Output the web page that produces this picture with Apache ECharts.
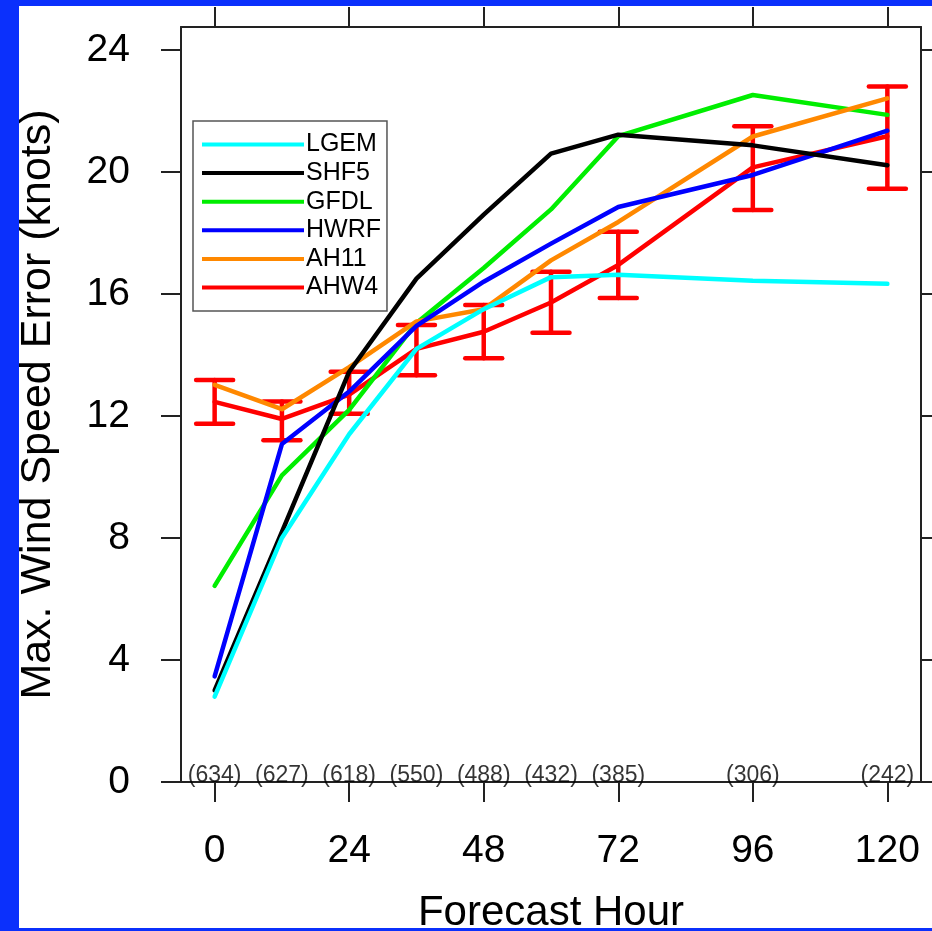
<!DOCTYPE html>
<html>
<head>
<meta charset="utf-8">
<script src="https://cdn.jsdelivr.net/npm/echarts@6/dist/echarts.min.js"></script>
<style>
  html, body { margin: 0; padding: 0; background: #ffffff; }
  #chart { width: 932px; height: 931px; }
</style>
</head>
<body>
<div id="chart"></div>
<script>
// Forecast lead times (hours)
const hours = [0, 12, 24, 36, 48, 60, 72, 96, 120];
// Number of verifying cases at each lead time
const caseCounts = [634, 627, 618, 550, 488, 432, 385, 306, 242];

// Mean absolute max wind speed error (knots) per model
const LGEM = [2.8, 8.0, 11.4, 14.2, 15.5, 16.55, 16.63, 16.43, 16.33];
const SHF5 = [3.0, 8.2, 13.45, 16.5, 18.6, 20.6, 21.22, 20.87, 20.22];
const GFDL = [6.43, 10.05, 12.2, 15.05, 16.85, 18.77, 21.17, 22.52, 21.87];
const HWRF = [3.46, 11.08, 12.8, 14.95, 16.4, 17.65, 18.85, 19.9, 21.35];
const AH11 = [13.02, 12.22, 13.6, 15.1, 15.5, 17.1, 18.36, 21.16, 22.41];
const AHW4 = [12.46, 11.9, 12.7, 14.2, 14.76, 15.72, 16.95, 20.15, 21.17];

// Confidence interval bounds for AHW4
const ahw4Low  = [11.74, 11.2, 12.07, 13.33, 13.89, 14.73, 15.87, 18.75, 19.45];
const ahw4High = [13.18, 12.47, 13.45, 14.98, 15.64, 16.73, 18.04, 21.5, 22.8];

// Axis tick values
const xTicks = [0, 24, 48, 72, 96, 120];
const yTicks = [0, 4, 8, 12, 16, 20, 24];

const FONT = "'Liberation Sans', Arial, Helvetica, sans-serif";

const modelStyles = [
  { name: 'LGEM', data: LGEM, color: '#00ffff', z: 8 },
  { name: 'SHF5', data: SHF5, color: '#000000', z: 7 },
  { name: 'GFDL', data: GFDL, color: '#00ee00', z: 5 },
  { name: 'HWRF', data: HWRF, color: '#0000ff', z: 6 },
  { name: 'AH11', data: AH11, color: '#ff8800', z: 5 },
  { name: 'AHW4', data: AHW4, color: '#ff0000', z: 4 }
];

const lineSeries = modelStyles.map(m => ({
  name: m.name,
  type: 'line',
  data: hours.map((h, i) => [h, m.data[i]]),
  symbol: 'none',
  color: m.color,
  lineStyle: { width: 4.5, color: m.color, cap: 'round', join: 'round' },
  z: m.z,
  animation: false
}));

const errorSeries = {
  name: 'AHW4 range',
  type: 'custom',
  data: hours.map((h, i) => [h, ahw4Low[i], ahw4High[i]]),
  z: 3,
  animation: false,
  renderItem: function (params, api) {
    const x = api.value(0);
    const lo = api.coord([x, api.value(1)]);
    const hi = api.coord([x, api.value(2)]);
    const half = 18.5;
    const style = { stroke: '#ff0000', lineWidth: 4.5, lineCap: 'round' };
    return {
      type: 'group',
      children: [
        { type: 'line', shape: { x1: lo[0], y1: lo[1], x2: hi[0], y2: hi[1] }, style: style },
        { type: 'line', shape: { x1: lo[0] - half, y1: lo[1], x2: lo[0] + half, y2: lo[1] }, style: style },
        { type: 'line', shape: { x1: hi[0] - half, y1: hi[1], x2: hi[0] + half, y2: hi[1] }, style: style }
      ]
    };
  }
};

const countSeries = {
  name: 'cases',
  type: 'scatter',
  data: hours.map(h => [h, 0]),
  symbolSize: 0,
  silent: true,
  clip: false,
  z: 9,
  animation: false,
  label: {
    show: true,
    position: 'top',
    distance: -5,
    fontFamily: FONT,
    fontSize: 23,
    color: '#000',
    formatter: p => '(' + caseCounts[p.dataIndex] + ')'
  }
};

const axisLineStyle = { color: '#222', width: 2 };

const chart = echarts.init(document.getElementById('chart'), null, { renderer: 'canvas' });
chart.setOption({
  backgroundColor: '#ffffff',
  animation: false,
  grid: { left: 181, right: 11, top: 27, bottom: 149, containLabel: false, outerBoundsMode: 'none' },
  legend: {
    data: modelStyles.map(m => m.name),
    orient: 'vertical',
    left: 193,
    top: 121,
    padding: [11, 6, 11, 9],
    backgroundColor: '#ffffff',
    borderColor: '#555555',
    borderWidth: 1.5,
    icon: 'rect',
    itemWidth: 102,
    itemHeight: 4,
    itemGap: 3.6,
    selectedMode: false,
    textStyle: { fontFamily: FONT, fontSize: 25, color: '#000', padding: [0, 0, 0, -3] }
  },
  xAxis: [
    {
      type: 'value',
      min: -6,
      max: 126,
      position: 'bottom',
      name: 'Forecast Hour',
      nameLocation: 'middle',
      nameGap: 110,
      nameTextStyle: { fontFamily: FONT, fontSize: 42, color: '#000' },
      splitLine: { show: false },
      axisLine: { show: true, onZero: false, lineStyle: axisLineStyle },
      axisTick: { show: true, inside: false, length: 20, customValues: xTicks, lineStyle: axisLineStyle },
      axisLabel: { show: true, customValues: xTicks, margin: 50, fontFamily: FONT, fontSize: 39, color: '#000' }
    },
    {
      type: 'value',
      min: -6,
      max: 126,
      position: 'top',
      splitLine: { show: false },
      axisLine: { show: true, onZero: false, lineStyle: axisLineStyle },
      axisTick: { show: true, inside: false, length: 20, customValues: xTicks, lineStyle: axisLineStyle },
      axisLabel: { show: false }
    }
  ],
  yAxis: [
    {
      type: 'value',
      min: 0,
      max: 24.75,
      position: 'left',
      name: 'Max. Wind Speed Error (knots)',
      nameLocation: 'middle',
      nameGap: 121,
      nameTextStyle: { fontFamily: FONT, fontSize: 43, color: '#000' },
      splitLine: { show: false },
      axisLine: { show: true, onZero: false, lineStyle: axisLineStyle },
      axisTick: { show: true, inside: false, length: 20, customValues: yTicks, lineStyle: axisLineStyle },
      axisLabel: { show: true, customValues: yTicks, margin: 51, fontFamily: FONT, fontSize: 39, color: '#000' }
    },
    {
      type: 'value',
      min: 0,
      max: 24.75,
      position: 'right',
      splitLine: { show: false },
      axisLine: { show: true, onZero: false, lineStyle: axisLineStyle },
      axisTick: { show: true, inside: false, length: 20, customValues: yTicks, lineStyle: axisLineStyle },
      axisLabel: { show: false }
    }
  ],
  graphic: [
    // slide frame bands
    { type: 'rect', left: 0, top: 0, shape: { width: 19, height: 931 }, style: { fill: '#0b30fc' }, z: 100 },
    { type: 'rect', left: 0, top: 0, shape: { width: 932, height: 6 }, style: { fill: '#0b30fc' }, z: 100 },
    { type: 'rect', left: 0, top: 928, shape: { width: 932, height: 3 }, style: { fill: '#0b30fc' }, z: 100 }
  ],
  series: [errorSeries].concat(lineSeries, [countSeries])
});
</script>
</body>
</html>
